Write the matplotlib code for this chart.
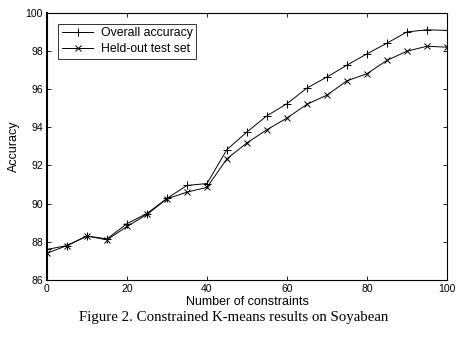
import matplotlib

matplotlib.use("Agg")
import matplotlib.pyplot as plt

plt.rcParams.update({"font.family": "Liberation Sans", "font.size": 7})

# constraints counts and accuracies
n_constraints = [0, 5, 10, 15, 20, 25, 30, 35, 40, 45, 50,
                 55, 60, 65, 70, 75, 80, 85, 90, 95, 100]
overall_acc = [87.6, 87.8, 88.3, 88.15, 88.95, 89.48, 90.27, 90.95, 91.05, 92.83, 93.75,
               94.6, 95.23, 96.05, 96.63, 97.25, 97.84, 98.4, 98.99, 99.1, 99.07]
heldout_acc = [87.4, 87.8, 88.3, 88.1, 88.8, 89.43, 90.25, 90.6, 90.85, 92.35, 93.18,
               93.87, 94.48, 95.2, 95.68, 96.43, 96.8, 97.5, 97.98, 98.24, 98.19]

fig = plt.figure(figsize=(4.67, 3.41), dpi=100)
ax = fig.add_axes([0.1006, 0.179, 0.8565, 0.784])

ax.plot(n_constraints, overall_acc, color="black", linewidth=0.7,
        marker="+", markersize=6, markeredgewidth=0.7, label="Overall accuracy")
ax.plot(n_constraints, heldout_acc, color="black", linewidth=0.7,
        marker="x", markersize=4.5, markeredgewidth=0.7, label="Held-out test set")

ax.set_xlim(0, 100)
ax.set_ylim(86, 100)
ax.set_xticks(range(0, 101, 20))
ax.set_yticks(range(86, 101, 2))
ax.tick_params(direction="in", top=True, right=True, length=3, width=0.6, labelsize=7.5, pad=3)
for s in ax.spines.values():
    s.set_linewidth(0.8)
ax.spines["left"].set_linewidth(1.5)

ax.set_xlabel("Number of constraints", fontsize=9, labelpad=1)
ax.set_ylabel("Accuracy", fontsize=9, labelpad=4)

leg = ax.legend(loc="upper left", fontsize=8.8, fancybox=False, edgecolor="black",
                borderaxespad=0.9, handlelength=2.6, borderpad=0.3, labelspacing=0.3,
                handletextpad=0.6)
leg.get_frame().set_linewidth(0.7)

fig.text(0.5, 0.068, "Figure 2. Constrained K-means results on Soyabean",
         ha="center", va="center", family="Liberation Serif", fontsize=10.7)

fig.savefig("out.png", dpi=100)
